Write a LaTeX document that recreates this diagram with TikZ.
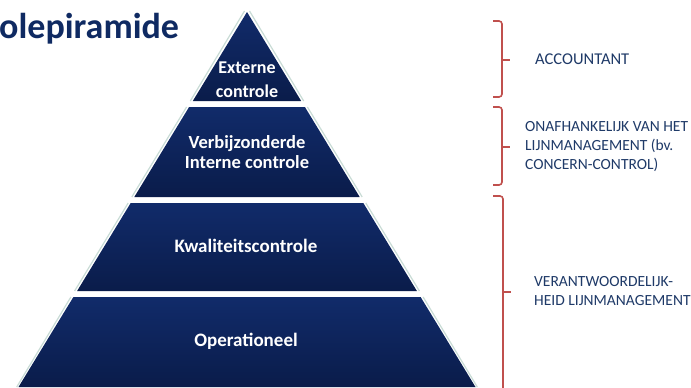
\documentclass[tikz,border=0pt]{standalone}
\usepackage{fontspec}
\setmainfont{Carlito}
\definecolor{navy}{HTML}{0F2A62}
\definecolor{navytop}{HTML}{112B6A}
\definecolor{navybot}{HTML}{0A1C4A}
\definecolor{edgegl}{HTML}{C9DCD6}
\definecolor{brred}{HTML}{C0504D}
\definecolor{txtnavy}{HTML}{1F3A68}
\begin{document}
\begin{tikzpicture}[x=1pt,y=-1pt,
  band/.style={top color=navytop, bottom color=navybot, draw=none},
  edgeline/.style={draw=edgegl, line width=1.2pt},
  lbl/.style={text=white, font=\fontsize{19}{23}\selectfont\bfseries, align=center, inner sep=0pt},
  brace/.style={draw=brred, line width=1.6pt, rounded corners=3pt},
  side/.style={text=txtnavy, font=\fontsize{15.5}{19}\selectfont, align=left, anchor=west, inner sep=0pt}]
\fill[white] (0,0) rectangle (691,388);
\useasboundingbox (0,0) rectangle (691,388);
% title
\node[anchor=west, inner sep=0pt, font=\fontsize{36}{40}\selectfont\bfseries, text=navy] (title) at (-1,29) {olepiramide};
% edge glow lines
\draw[edgeline] (244.5,11) -- (190.3,101);
\draw[edgeline] (249.5,11) -- (303.7,101);
\draw[edgeline] (186.6,107) -- (131.8,197);
\draw[edgeline] (307.4,107) -- (362.2,197);
\draw[edgeline] (128.2,203) -- (74.6,291);
\draw[edgeline] (365.8,203) -- (419.4,291);
\draw[edgeline] (70.9,297) -- (16.7,387);
\draw[edgeline] (423.1,297) -- (477.3,387);
% bands
\path[band] (247,12) -- (301.2,101) -- (192.8,101) -- cycle;
\path[band] (189.1,107) -- (304.9,107) -- (359.7,197) -- (134.3,197) -- cycle;
\path[band] (130.7,203) -- (363.3,203) -- (416.9,291) -- (77.1,291) -- cycle;
\path[band] (73.4,297) -- (420.6,297) -- (475.5,387) -- (18.5,387) -- cycle;
% band labels
\node[lbl, font=\fontsize{18}{24}\selectfont\bfseries] (ext) at (247,80) {Externe\\controle};
\node[lbl, font=\fontsize{18.5}{20}\selectfont\bfseries] (vic) at (247,152) {Verbijzonderde\\Interne controle};
\node[lbl] (kwa) at (246,246) {Kwaliteitscontrole};
\node[lbl] (ope) at (246,341) {Operationeel};
% brackets
\draw[brace] (493,21) -- (502,21) -- (502,97) -- (493,97);
\draw[brace] (502,60) -- (510,60);
\draw[brace] (493,107) -- (502,107) -- (502,185) -- (493,185);
\draw[brace] (502,147) -- (510,147);
\draw[brace] (493,196) -- (503,196) -- (503,395);
\draw[brace] (503,292) -- (511,292);
% side texts
\node[side, font=\fontsize{16.5}{19}\selectfont] (acc) at (535,59) {ACCOUNTANT};
\node[side] (onaf) at (525,147) {ONAFHANKELIJK VAN HET\\LIJNMANAGEMENT (bv.\\CONCERN-CONTROL)};
\node[side] (ver) at (534,291) {VERANTWOORDELIJK-\\HEID LIJNMANAGEMENT};
\end{tikzpicture}
\end{document}
